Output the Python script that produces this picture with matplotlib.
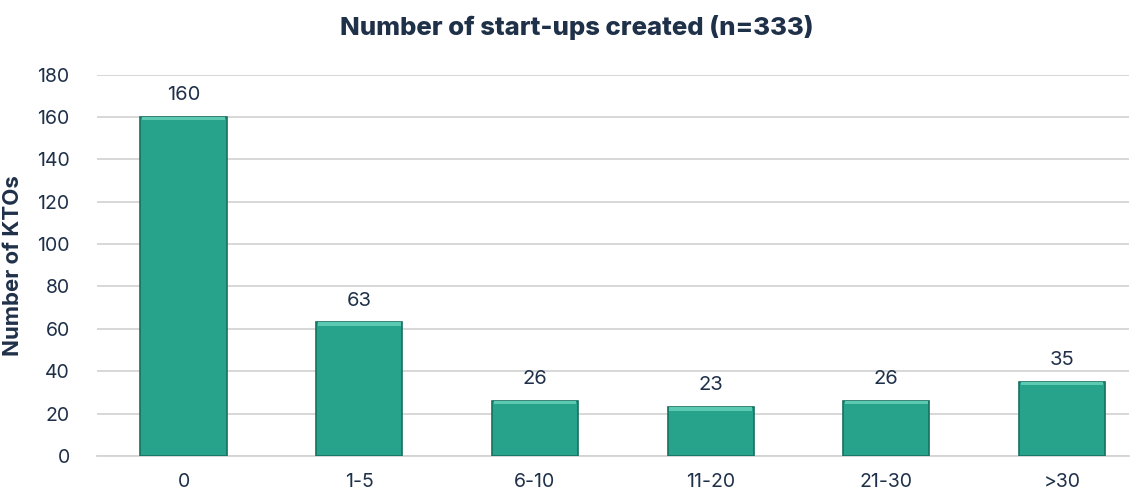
import matplotlib.pyplot as plt

categories = ['0', '1-5', '6-10', '11-20', '21-30', '>30']
counts = [160, 63, 26, 23, 26, 35]
y_ticks = [0, 20, 40, 60, 80, 100, 120, 140, 160, 180]

text_col = '#1f3049'
bar_col = '#27a38c'

plt.rcParams['font.family'] = ['Inter', 'DejaVu Sans']

fig = plt.figure(figsize=(11.46, 4.95), dpi=100)
ax = fig.add_axes([0.085, 0.079, 0.9, 0.77])

x = range(len(categories))
bars = ax.bar(x, counts, width=0.49, color=bar_col, edgecolor='#17705f', linewidth=1.2, zorder=3)
# light bevel on top of each bar
ax.bar(x, [1.6] * len(counts), bottom=[c - 1.6 for c in counts], width=0.47,
       color='#5cc9b3', linewidth=0, zorder=4)

for xi, c in zip(x, counts):
    ax.text(xi, c + 6, str(c), ha='center', va='bottom', fontsize=14.5, color=text_col)

ax.set_xlim(-0.49, 5.38)
ax.set_ylim(0, 180)
ax.set_yticks(y_ticks)
ax.set_xticks(list(x))
ax.set_xticklabels(categories)
ax.tick_params(axis='both', length=0, labelsize=14, labelcolor=text_col)
ax.tick_params(axis='x', pad=12)
ax.tick_params(axis='y', pad=20)
ax.yaxis.grid(True, color='#d4d4d4', linewidth=1.3, zorder=0)
ax.set_axisbelow(True)
for s in ['top', 'right', 'left']:
    ax.spines[s].set_visible(False)
ax.spines['bottom'].set_color('#d4d4d4')
ax.spines['bottom'].set_linewidth(1.3)

ax.set_ylabel('Number of KTOs', fontsize=16, fontweight='bold', color=text_col, labelpad=10)
fig.suptitle('Number of start-ups created (n=333)', fontsize=18.5, fontweight='heavy',
             color=text_col, x=0.503, y=0.97)

fig.savefig('out.png', dpi=100)
